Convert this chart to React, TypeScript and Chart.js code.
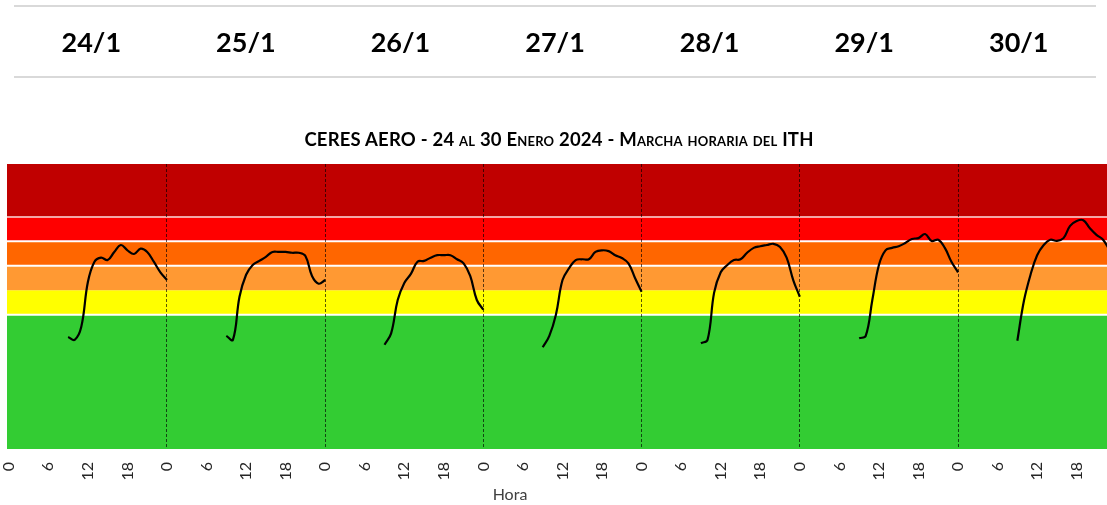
import React, { useEffect, useRef } from 'react';
import { Chart, registerables } from 'chart.js';

Chart.register(...registerables);

// ---- Data ----
const dayLabels = ['24/1', '25/1', '26/1', '27/1', '28/1', '29/1', '30/1'];

// Hourly ITH per day (index = hour 0..23); null = no data
const ith24 = [null, null, null, null, null, null, null, null, null, 65.25, 64.9, 66.5, 72.0, 74.5, 75.0, 74.7, 75.7, 76.55, 75.9, 75.45, 76.1, 75.7, 74.5, 73.2];
const ith25 = [72.25, null, null, null, null, null, null, null, null, 65.4, 64.9, 70.2, 72.9, 74.1, 74.6, 75.1, 75.7, 75.7, 75.7, 75.6, 75.6, 75.2, 72.75, 71.8];
const ith26 = [72.25, null, null, null, null, null, null, null, null, 64.3, 65.7, 69.8, 71.9, 73.0, 74.5, 74.6, 75.0, 75.3, 75.3, 75.3, 74.8, 74.3, 72.75, 69.8];
const ith27 = [68.6, null, null, null, null, null, null, null, null, 64.0, 65.4, 68.0, 72.25, 73.7, 74.7, 74.8, 74.8, 75.7, 75.9, 75.8, 75.3, 74.95, 74.3, 72.5];
const ith28 = [70.8, null, null, null, null, null, null, null, null, 64.5, 64.9, 70.7, 73.2, 74.1, 74.7, 74.8, 75.6, 76.2, 76.4, 76.55, 76.7, 76.3, 75.0, 72.25];
const ith29 = [70.2, null, null, null, null, null, null, null, null, 65.1, 65.4, 69.8, 74.1, 75.9, 76.2, 76.4, 76.8, 77.3, 77.4, 77.9, 77.05, 77.2, 76.2, 74.5];
const ith30 = [73.2, null, null, null, null, null, null, null, null, 64.8, 69.7, 72.9, 75.3, 76.55, 77.2, 77.05, 77.4, 78.9, 79.5, 79.6, 78.6, 77.8, 77.2, 75.9];

const days = [ith24, ith25, ith26, ith27, ith28, ith29, ith30];

// Hour ticks shown on the axis (hours since 24/1 00:00)
const hourTicks = [0, 6, 12, 18, 24, 30, 36, 42, 48, 54, 60, 66, 72, 78, 84, 90, 96, 102, 108, 114, 120, 126, 132, 138, 144, 150, 156, 162];
const dayBoundaries = [24, 48, 72, 96, 120, 144];

// ITH category thresholds and colours (bottom -> top)
const ithThresholds = [68, 71, 74, 77, 80];
const bandColors = ['#33CC33', '#FFFF00', '#FF9933', '#FF6600', '#FF0000', '#C00000'];
const whiteLines = [68, 74, 77, 80];

const yMin = 51.5;
const yMax = 86.5;

const points: { x: number; y: number | null }[] = [];
days.forEach((arr, d) => {
  arr.forEach((v, h) => points.push({ x: d * 24 + h, y: v }));
});

const bandsPlugin = {
  id: 'ithBands',
  beforeDraw(chart: any) {
    const { ctx, chartArea, scales } = chart;
    const y = scales.y;
    const edges = [yMin, ...ithThresholds, yMax];
    ctx.save();
    for (let i = 0; i < bandColors.length; i++) {
      const top = y.getPixelForValue(edges[i + 1]);
      const bot = y.getPixelForValue(edges[i]);
      ctx.fillStyle = bandColors[i];
      ctx.fillRect(chartArea.left, top, chartArea.right - chartArea.left, bot - top);
    }
    whiteLines.forEach((v) => {
      const py = y.getPixelForValue(v);
      ctx.strokeStyle = v === 80 ? 'rgba(255,255,255,0.85)' : '#ffffff';
      ctx.lineWidth = v === 80 ? 1.5 : 2;
      ctx.beginPath();
      ctx.moveTo(chartArea.left, py);
      ctx.lineTo(chartArea.right, py);
      ctx.stroke();
    });
    ctx.restore();
  },
};

export default function App() {
  const canvasRef = useRef<HTMLCanvasElement | null>(null);

  useEffect(() => {
    if (!canvasRef.current) return;
    const chart = new Chart(canvasRef.current, {
      type: 'line',
      data: {
        datasets: [
          {
            label: 'ITH',
            data: points as any,
            borderColor: '#000000',
            borderWidth: 2.2,
            pointRadius: 0,
            tension: 0.4,
            spanGaps: false,
            fill: false,
          },
        ],
      },
      options: {
        animation: false,
        responsive: true,
        maintainAspectRatio: false,
        layout: { padding: { top: 164, left: 7, right: 0, bottom: 0 } },
        plugins: { legend: { display: false }, title: { display: false }, tooltip: { enabled: false } },
        scales: {
          x: {
            type: 'linear',
            min: -0.27,
            max: 166.6,
            afterBuildTicks: (scale: any) => {
              scale.ticks = hourTicks.map((v) => ({ value: v }));
            },
            afterFit: (scale: any) => {
              scale.height = 56;
              scale.paddingLeft = 0;
              scale.paddingRight = 0;
            },
            ticks: {
              autoSkip: false,
              minRotation: 90,
              maxRotation: 90,
              padding: 13,
              color: '#262626',
              font: { family: 'Lato', size: 16 },
              callback: (v: any) => String(Number(v) % 24),
            },
            grid: {
              drawTicks: false,
              lineWidth: 1,
              color: (c: any) =>
                c.tick && dayBoundaries.includes(c.tick.value) ? 'rgba(0,0,0,0.65)' : 'rgba(0,0,0,0)',
            },
            border: { display: false, dash: [3, 2] },
          },
          y: {
            display: false,
            min: yMin,
            max: yMax,
          },
        },
      },
      plugins: [bandsPlugin],
    });
    return () => chart.destroy();
  }, []);

  const line = (top: number) => (
    <div style={{ position: 'absolute', left: 14, width: 1082, top, height: 2, background: '#d9d9d9' }} />
  );

  return (
    <div style={{ position: 'absolute', left: 0, top: 0, width: 1107, height: 505, overflow: 'hidden', background: '#fff' }}>
      <div style={{ position: 'absolute', left: 0, top: 0, width: 1107, height: 505 }}>
        <canvas ref={canvasRef} />
      </div>
      {line(5)}
      {line(76)}
      <div style={{ position: 'absolute', left: 14, width: 1082, top: 7, height: 69, display: 'flex' }}>
        {dayLabels.map((d) => (
          <div
            key={d}
            style={{
              flex: 1,
              display: 'flex',
              alignItems: 'center',
              justifyContent: 'center',
              fontFamily: 'Lato, sans-serif',
              fontWeight: 700,
              fontSize: 27,
              color: '#000',
            }}
          >
            {d}
          </div>
        ))}
      </div>
      <div
        style={{
          position: 'absolute',
          left: 0,
          width: 1118,
          top: 128,
          textAlign: 'center',
          fontFamily: 'Lato, sans-serif',
          fontWeight: 700,
          fontSize: 18.5,
          letterSpacing: 0.2,
          fontVariant: 'small-caps',
          color: '#000',
          whiteSpace: 'nowrap',
        }}
      >
        CERES AERO - 24 al 30 Enero 2024 - Marcha horaria del ITH
      </div>
      <div
        style={{
          position: 'absolute',
          left: 470,
          width: 80,
          top: 484,
          textAlign: 'center',
          fontFamily: 'Lato, sans-serif',
          fontSize: 16,
          color: '#404040',
        }}
      >
        Hora
      </div>
    </div>
  );
}
